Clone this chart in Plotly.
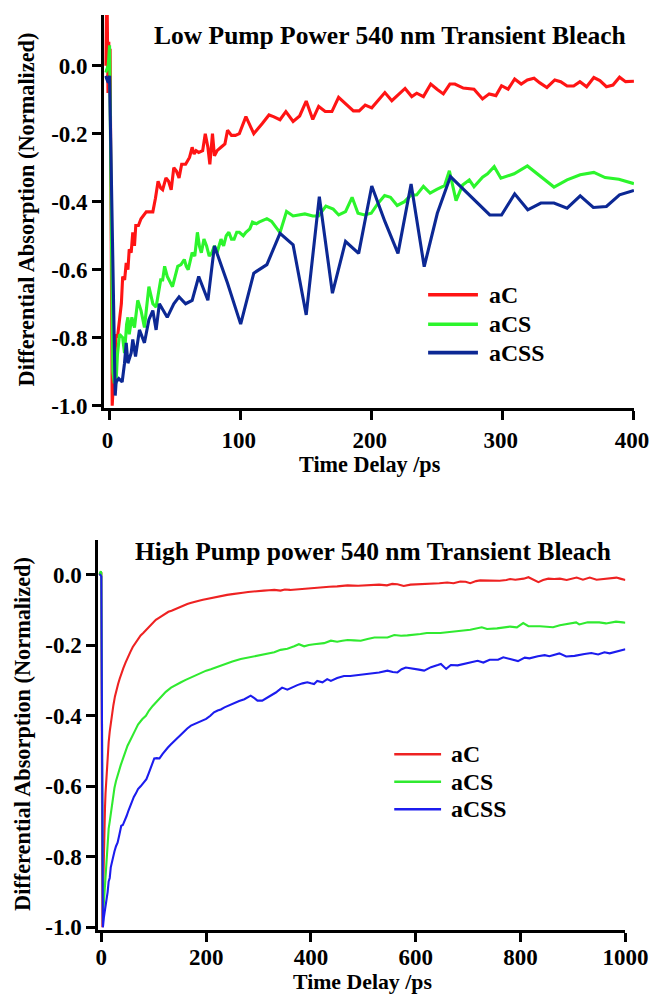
import plotly.graph_objects as go

# ---------------- Low pump power (top panel) ----------------
low_aC_t = [-3, -2, -1.2, -0.6, 0, 0.4, 2, 3, 4, 5, 6, 7.6, 9, 10, 11.5, 12.7, 14, 15, 16.5, 17.7,
            19, 20, 22, 24, 26, 28, 30, 33, 35, 37, 39, 40.5, 43, 45, 47, 49, 51, 53, 55, 58,
            61, 63, 64.5, 66, 68, 71, 73, 75, 76.5, 78.5, 80, 82, 85, 88, 90, 93, 96, 99, 104, 110,
            116.5, 121.6, 125, 130, 134.5, 140, 145, 150, 155, 159.5, 164.5, 169.6, 174.7, 179.8, 186, 190.4, 195, 200, 205, 210,
            215.3, 220, 225.4, 230.5, 234.3, 239.4, 245, 250, 254.6, 259.6, 263.4, 269.8, 278, 284.5, 289.6, 294.7, 299, 304, 309, 314,
            318.7, 323.8, 328, 333.6, 339.6, 344.1, 349, 354, 358.8, 363.9, 369.4, 374, 379, 384, 389, 393.6, 398.6, 400]
low_aC_v = [0.0, 0.25, -0.08, 0.07, -0.08, 0.05, -1.0, -0.93, -0.86, -0.79, -0.80, -0.75, -0.70, -0.62, -0.63, -0.58, -0.60, -0.54, -0.55, -0.49,
            -0.53, -0.47, -0.47, -0.45, -0.44, -0.43, -0.43, -0.43, -0.39, -0.34, -0.36, -0.365, -0.33, -0.34, -0.365, -0.30, -0.31, -0.33, -0.29, -0.29,
            -0.27, -0.24, -0.26, -0.25, -0.255, -0.25, -0.20, -0.24, -0.29, -0.20, -0.265, -0.25, -0.24, -0.23, -0.19, -0.205, -0.205, -0.20, -0.15, -0.20,
            -0.17, -0.145, -0.15, -0.159, -0.135, -0.164, -0.148, -0.104, -0.158, -0.12, -0.135, -0.135, -0.093, -0.111, -0.133, -0.133, -0.116, -0.124, -0.10, -0.079,
            -0.103, -0.085, -0.067, -0.091, -0.081, -0.091, -0.054, -0.07, -0.083, -0.054, -0.054, -0.066, -0.069, -0.098, -0.083, -0.088, -0.059, -0.069, -0.039, -0.054,
            -0.042, -0.037, -0.05, -0.064, -0.042, -0.047, -0.060, -0.060, -0.047, -0.062, -0.035, -0.044, -0.062, -0.057, -0.034, -0.047, -0.047, -0.046]

low_aCS_t = [-3, -1, 0, 0.8, 2.5, 3.5, 5, 6, 7.6, 10, 11.4, 13, 14, 15, 17, 19, 21.5, 24, 26.6, 28,
             30, 33, 35.5, 39, 40.5, 42, 44, 48, 50, 52, 54.5, 57, 58.5, 60, 63, 65, 67, 68.5, 70, 72,
             74, 76, 78, 80, 82, 85, 87, 89, 91, 93, 95, 97, 99, 102, 104, 107, 109, 112, 114, 117,
             120, 123.6, 130, 135, 140, 149, 155, 159.4, 165, 170.6, 174.8, 180, 185, 189.5, 194.5, 199.6, 204.7, 209.8, 214.3, 219.4,
             225, 229.5, 234.3, 239.4, 244.5, 249.6, 255.5, 259.2, 264.3, 269.3, 274.4, 278, 284.5, 288.3, 293.4, 298.5, 308.6, 318.7, 328.8, 339,
             349, 359, 369.4, 378, 388.5, 398.6, 400]
low_aCS_v = [-0.02, 0.0, 0.06, -0.3, -0.90, -0.93, -0.93, -0.85, -0.79, -0.80, -0.845, -0.76, -0.74, -0.79, -0.74, -0.77, -0.69, -0.72, -0.77, -0.72,
             -0.65, -0.70, -0.71, -0.63, -0.63, -0.59, -0.62, -0.65, -0.62, -0.59, -0.585, -0.57, -0.59, -0.60, -0.55, -0.56, -0.49, -0.53, -0.55, -0.51,
             -0.53, -0.56, -0.55, -0.53, -0.55, -0.51, -0.53, -0.50, -0.49, -0.51, -0.51, -0.49, -0.49, -0.50, -0.49, -0.48, -0.46, -0.465, -0.46, -0.455,
             -0.45, -0.458, -0.491, -0.429, -0.442, -0.436, -0.442, -0.442, -0.413, -0.422, -0.439, -0.429, -0.387, -0.434, -0.439, -0.434, -0.405, -0.382, -0.387, -0.411,
             -0.40, -0.382, -0.380, -0.355, -0.375, -0.364, -0.353, -0.309, -0.397, -0.351, -0.336, -0.356, -0.328, -0.318, -0.297, -0.331, -0.318, -0.295, -0.326, -0.357,
             -0.336, -0.321, -0.314, -0.329, -0.334, -0.346, -0.347]

low_aCSS_t = [-3, -1, 0, 2, 4.3, 5, 7, 9.6, 11.4, 12.7, 14, 16.5, 17.7, 19.8, 22.8, 26.6, 30, 33, 35.5, 38,
              44, 49, 53, 58, 63, 68, 75, 80, 90, 100, 110, 120, 130, 140, 150, 160, 170, 180, 190, 200,
              210, 220, 230, 240, 250, 260, 290, 299, 309, 319, 329, 339, 349, 359, 369, 379, 389, 400]
low_aCSS_v = [-0.03, -0.05, -0.03, -0.5, -0.97, -0.93, -0.92, -0.93, -0.875, -0.815, -0.875, -0.845, -0.805, -0.855, -0.777, -0.815, -0.747, -0.72, -0.777, -0.70,
              -0.74, -0.70, -0.68, -0.70, -0.69, -0.62, -0.69, -0.53, -0.64, -0.76, -0.61, -0.585, -0.493, -0.527, -0.733, -0.385, -0.669, -0.517, -0.552, -0.354,
              -0.458, -0.552, -0.348, -0.591, -0.434, -0.326, -0.439, -0.439, -0.377, -0.424, -0.404, -0.404, -0.419, -0.383, -0.417, -0.414, -0.380, -0.367]

# ---------------- High pump power (bottom panel) ----------------
high_aC_t = [-4, -2, 0, 0.8, 2, 3, 4, 5, 6, 7, 8, 10, 12, 14, 16, 18, 20, 23, 26, 29,
             32, 35, 38, 42, 46, 50, 55, 60, 65, 70, 75, 80, 86, 92, 98, 104, 110, 116, 122, 128,
             134, 140, 146, 152, 158, 164, 170, 176, 182, 188, 194, 200, 210, 220, 230, 240, 250, 260, 270, 280,
             290, 300, 310, 320, 330, 342, 350, 360, 374, 390, 406, 420, 435, 450, 470, 490, 510, 530, 545, 555,
             565, 577, 590, 610, 628, 645, 660, 672, 685, 695, 704, 715, 723, 735, 748, 760, 773, 780, 790, 799,
             806, 815, 824, 834, 843, 853, 864, 875, 888, 898, 907, 919, 932, 945, 955, 964, 974, 983, 990, 996, 1000]
high_aC_v = [0.0, 0.004, 0.004, -0.5, -1.0, -0.93, -0.84, -0.77, -0.71, -0.66, -0.62, -0.565, -0.51, -0.475, -0.445, -0.42, -0.40, -0.37, -0.345, -0.325,
             -0.31, -0.295, -0.28, -0.265, -0.25, -0.235, -0.22, -0.205, -0.193, -0.183, -0.172, -0.165, -0.155, -0.145, -0.138, -0.128, -0.122, -0.116, -0.110, -0.105,
             -0.102, -0.098, -0.093, -0.090, -0.086, -0.083, -0.080, -0.077, -0.075, -0.073, -0.071, -0.069, -0.065, -0.062, -0.059, -0.057, -0.055, -0.052, -0.051, -0.049,
             -0.047, -0.046, -0.045, -0.044, -0.043, -0.045, -0.042, -0.043, -0.041, -0.040, -0.037, -0.036, -0.034, -0.033, -0.030, -0.031, -0.029, -0.028, -0.030, -0.026,
             -0.027, -0.032, -0.028, -0.027, -0.026, -0.024, -0.022, -0.024, -0.019, -0.020, -0.024, -0.018, -0.016, -0.017, -0.016, -0.017, -0.015, -0.012, -0.014, -0.013,
             -0.011, -0.007, -0.014, -0.021, -0.015, -0.011, -0.012, -0.011, -0.015, -0.012, -0.008, -0.014, -0.008, -0.014, -0.012, -0.011, -0.009, -0.008, -0.011, -0.013, -0.015]

high_aCS_t = [-4, -2, -1, 0, 1, 3, 4, 6, 8, 10, 12, 14, 16, 19, 22, 25, 28, 31, 34, 37,
              41, 45, 50, 55, 60, 65, 70, 73, 78, 85, 91, 98, 105, 114, 123, 133, 142, 152, 161, 171,
              180, 190, 200, 209, 220, 234, 250, 266, 282, 298, 314, 330, 342, 355, 368, 377, 387, 396, 406, 415,
              425, 438, 450, 460, 470, 482, 495, 508, 521, 533, 546, 559, 572, 584, 597, 609, 621, 634, 647, 660,
              672, 685, 704, 726, 736, 755, 780, 793, 805, 815, 837, 862, 875, 906, 912, 928, 950, 963, 982, 995, 1000]
high_aCS_v = [0.0, 0.01, 0.01, 0.005, -0.5, -0.99, -0.95, -0.90, -0.85, -0.80, -0.76, -0.72, -0.70, -0.665, -0.63, -0.605, -0.585, -0.57, -0.55, -0.54,
              -0.523, -0.505, -0.485, -0.47, -0.457, -0.44, -0.425, -0.419, -0.41, -0.40, -0.385, -0.372, -0.36, -0.345, -0.332, -0.32, -0.312, -0.305, -0.298, -0.291,
              -0.284, -0.277, -0.272, -0.268, -0.262, -0.253, -0.246, -0.239, -0.234, -0.230, -0.225, -0.220, -0.213, -0.210, -0.203, -0.197, -0.203, -0.199, -0.197, -0.196,
              -0.194, -0.187, -0.190, -0.187, -0.185, -0.186, -0.187, -0.182, -0.178, -0.178, -0.178, -0.171, -0.173, -0.172, -0.171, -0.168, -0.165, -0.166, -0.165, -0.163,
              -0.161, -0.160, -0.156, -0.149, -0.154, -0.152, -0.147, -0.149, -0.137, -0.146, -0.146, -0.149, -0.143, -0.135, -0.141, -0.135, -0.135, -0.138, -0.133, -0.135, -0.136]

high_aCSS_t = [-4, -2, 0, 1, 3, 5, 7, 9.5, 12, 14, 16, 18, 20, 22, 25, 28, 31, 34, 38, 41,
               44, 48, 52, 57, 62, 66, 70, 75, 80, 86, 90, 95, 101, 106, 111, 117, 122, 127, 132, 136,
               142, 147, 152, 158, 164, 171, 177, 184, 190, 200, 208, 215, 222, 228, 235, 244, 254, 263, 273, 279,
               285, 292, 298, 307, 317, 325, 333, 340, 345, 355, 364, 374, 384, 393, 400, 406, 412, 422, 431, 438,
               450, 463, 475, 488, 500, 514, 530, 546, 556, 565, 573, 581, 597, 606, 616, 629, 642, 648, 658, 667,
               680, 693, 705, 712, 718, 729, 741, 757, 767, 780, 795, 808, 817, 833, 846, 855, 874, 887, 903, 922,
               935, 948, 960, 970, 985, 995, 1000]
high_aCSS_v = [0.0, 0.0, -0.005, -0.6, -1.0, -0.97, -0.95, -0.93, -0.90, -0.87, -0.86, -0.83, -0.815, -0.797, -0.785, -0.77, -0.76, -0.74, -0.712, -0.71,
               -0.70, -0.685, -0.668, -0.646, -0.63, -0.62, -0.608, -0.60, -0.59, -0.58, -0.565, -0.542, -0.521, -0.52, -0.521, -0.508, -0.498, -0.49, -0.482, -0.476,
               -0.468, -0.46, -0.452, -0.445, -0.436, -0.428, -0.424, -0.419, -0.415, -0.409, -0.40, -0.39, -0.385, -0.382, -0.376, -0.37, -0.362, -0.358, -0.353, -0.348,
               -0.343, -0.35, -0.357, -0.357, -0.348, -0.342, -0.334, -0.326, -0.32, -0.326, -0.319, -0.313, -0.308, -0.305, -0.308, -0.310, -0.301, -0.305, -0.296, -0.301,
               -0.293, -0.287, -0.287, -0.285, -0.283, -0.279, -0.277, -0.272, -0.276, -0.277, -0.268, -0.263, -0.266, -0.269, -0.272, -0.262, -0.256, -0.253, -0.267, -0.256,
               -0.257, -0.253, -0.25, -0.247, -0.244, -0.249, -0.241, -0.241, -0.234, -0.239, -0.245, -0.235, -0.237, -0.231, -0.228, -0.231, -0.223, -0.232, -0.230, -0.225,
               -0.222, -0.226, -0.220, -0.223, -0.218, -0.213, -0.211]

series_names = ["aC", "aCS", "aCSS"]
low_colors = ["#ff1414", "#2cf52c", "#0c2894"]
high_colors = ["#ee2222", "#30ea30", "#1c1cee"]

x_ticks_low = [0, 100, 200, 300, 400]
x_ticks_high = [0, 200, 400, 600, 800, 1000]
y_ticks = [0.0, -0.2, -0.4, -0.6, -0.8, -1.0]
y_tick_text = ["0.0", "-0.2", "-0.4", "-0.6", "-0.8", "-1.0"]

FONT = "Liberation Serif"
# The page is photographed slightly compressed; layout positions below are given in
# picture pixels and converted to figure pixels with these factors.
SX, OX, SY = 0.965, 1.3, 0.99
W, H = 674, 1008

fig = go.Figure()
low = [(low_aC_t, low_aC_v), (low_aCS_t, low_aCS_v), (low_aCSS_t, low_aCSS_v)]
high = [(high_aC_t, high_aC_v), (high_aCS_t, high_aCS_v), (high_aCSS_t, high_aCSS_v)]
for (t, v), name, c in zip(low, series_names, low_colors):
    fig.add_trace(go.Scatter(x=t, y=v, mode="lines", name=name, line=dict(color=c, width=3.1),
                             xaxis="x", yaxis="y", showlegend=False))
for (t, v), name, c in zip(high, series_names, high_colors):
    fig.add_trace(go.Scatter(x=t, y=v, mode="lines", name=name, line=dict(color=c, width=2.1),
                             xaxis="x2", yaxis="y2", showlegend=False))

tickfont = dict(family=FONT, size=23, color="black", weight="bold")
axis_common = dict(showline=True, linecolor="black", linewidth=2.6, ticks="outside", ticklen=9.3,
                   tickwidth=2.6, tickcolor="black", showgrid=False, zeroline=False, tickfont=tickfont)

def px_x(p):
    return ((p - OX) / SX) / W

def px_y(p):
    return 1 - (p / SY) / H

fig.update_layout(
    width=W, height=H, margin=dict(l=0, r=0, t=0, b=0),
    paper_bgcolor="white", plot_bgcolor="white", showlegend=False,
    xaxis=dict(domain=[px_x(103), px_x(634.6)], range=[-4, 400], tickvals=x_ticks_low, anchor="y",
               ticklabelstandoff=0, ticklabelshift=-2, **axis_common),
    yaxis=dict(domain=[px_y(408.5), px_y(15)], range=[-1.007, 0.149], tickvals=y_ticks, ticktext=y_tick_text,
               anchor="x", **axis_common),
    xaxis2=dict(domain=[px_x(97), px_x(626)], range=[-5.7, 1000], tickvals=x_ticks_high, anchor="y2",
                ticklabelstandoff=-5, **axis_common),
    yaxis2=dict(domain=[px_y(931), px_y(540)], range=[-1.008, 0.1], tickvals=y_ticks, ticktext=y_tick_text,
                anchor="x2", **axis_common),
)

def label(text, x, y, size=22.2, angle=0, xanchor="center"):
    fig.add_annotation(text=text, x=px_x(x), y=px_y(y), xref="paper", yref="paper", showarrow=False,
                       xanchor=xanchor, yanchor="middle", textangle=angle, borderpad=0,
                       font=dict(family=FONT, size=size, color="black", weight="bold"))

label("Low Pump Power 540 nm Transient Bleach", 389.5, 35.5, size=25.5)
label("Time Delay /ps", 370, 464.5)
label("Differential Absorption (Normalized)", 25, 210, size=22.3, angle=-90)
label("High Pump power 540 nm Transient Bleach", 373, 552, size=25.5)
label("Time Delay /ps", 362, 983, size=21.8)
label("Differential Absorption (Normalized)", 21, 735, size=22.3, angle=-90)

# legends (key line + name for each series)
def legend_block(x0, x1, xt, ys, colors, width):
    for name, c, yy in zip(series_names, colors, ys):
        fig.add_shape(type="line", xref="paper", yref="paper", x0=px_x(x0), x1=px_x(x1),
                      y0=px_y(yy), y1=px_y(yy), line=dict(color=c, width=width))
        label(name, xt, yy, size=23.8, xanchor="left")

legend_block(428, 478, 488, [295, 324.5, 353], low_colors, 3.6)
legend_block(394, 441, 450, [755, 782.5, 810], high_colors, 2.6)

fig.write_html("out.html")
